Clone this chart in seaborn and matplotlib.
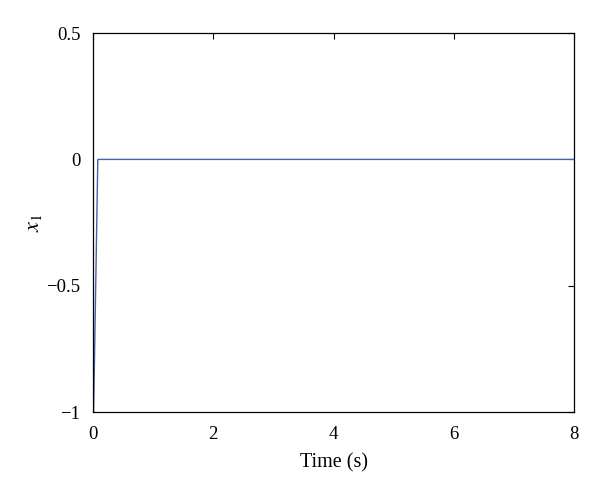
import matplotlib
matplotlib.use("Agg")
import matplotlib.pyplot as plt
import seaborn as sns
import pandas as pd

time_s = [0.0, 0.01, 0.08, 8.0]
x1 = [-1.0, -1.0, 0.0, 0.0]
x_ticks = [0, 2, 4, 6, 8]
y_ticks = [-1, -0.5, 0, 0.5]
y_tick_labels = ["\u22121", "\u22120.5", "0", "0.5"]

sns.set_theme(style="white")
plt.rcParams["font.family"] = ["Liberation Serif", "DejaVu Serif"]
plt.rcParams["mathtext.fontset"] = "stix"

df = pd.DataFrame({"t": time_s, "x1": x1})
fig = plt.figure(figsize=(6.0, 4.93), dpi=100)
ax = fig.add_axes([0.155, 0.164, 0.802, 0.769])
sns.lineplot(data=df, x="t", y="x1", ax=ax, color="#4a5fa8", linewidth=1.0, sort=False)
ax.set_xlim(0, 8)
ax.set_ylim(-1, 0.5)
ax.set_xticks(x_ticks)
ax.set_xticklabels([str(v) for v in x_ticks])
ax.set_yticks(y_ticks)
ax.set_yticklabels(y_tick_labels)
ax.tick_params(direction="in", length=4, width=0.8, top=True, right=True,
               labelsize=13.5, colors="black")
ax.tick_params(axis="x", pad=10)
ax.tick_params(axis="y", pad=9)
for s in ax.spines.values():
    s.set_color("black")
    s.set_linewidth(0.9)
    s.set_visible(True)
ax.set_xlabel("Time (s)", fontsize=14.5, color="black", labelpad=7)
ax.set_ylabel("$x_1$", fontsize=16, color="black", labelpad=2)
fig.savefig("out.png", dpi=100, facecolor="white")
